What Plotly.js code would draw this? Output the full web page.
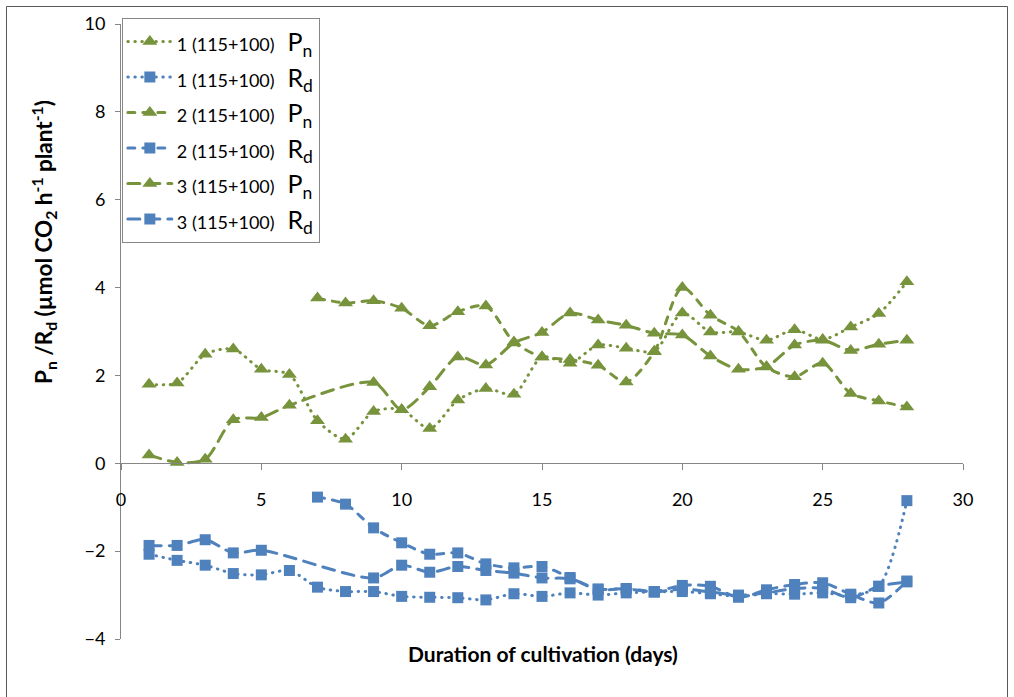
<!DOCTYPE html>
<html>
<head>
<meta charset="utf-8">
<script src="https://cdn.plot.ly/plotly-3.0.1.min.js"></script>
<style>
html, body { margin: 0; padding: 0; background: #fff; }
#chart { width: 1014px; height: 697px; }
path.js-line { stroke-linecap: round; }
</style>
</head>
<body>
<div id="chart"></div>
<script>
// Duration of cultivation (days)
const days = [1,2,3,4,5,6,7,8,9,10,11,12,13,14,15,16,17,18,19,20,21,22,23,24,25,26,27,28];

// Pn series (µmol CO2 h-1 plant-1)
const pn1 = [1.80,1.83,2.48,2.60,2.14,2.02,0.97,0.55,1.18,1.22,0.79,1.44,1.70,1.57,2.42,2.28,2.69,2.62,2.55,3.42,2.99,2.99,2.80,3.04,2.82,3.10,3.41,4.13];
const pn2 = [null,null,null,null,null,null,3.76,3.65,3.70,3.53,3.13,3.45,3.58,2.76,2.42,2.36,2.23,1.85,2.54,4.00,3.37,3.00,2.19,1.97,2.28,1.59,1.42,1.28];
const pn3 = [0.19,0.02,0.09,0.99,1.04,1.32,null,null,1.84,1.22,1.74,2.42,2.24,2.74,2.98,3.42,3.26,3.14,2.96,2.92,2.44,2.14,2.20,2.69,2.80,2.57,2.71,2.80];

// Rd series
const rd1 = [-2.07,-2.21,-2.32,-2.51,-2.54,-2.44,-2.82,-2.92,-2.92,-3.03,-3.05,-3.06,-3.11,-2.97,-3.03,-2.95,-3.00,-2.95,-2.93,-2.92,-2.97,-3.03,-2.97,-2.98,-2.95,-3.00,-2.80,-0.85];
const rd2 = [null,null,null,null,null,null,-0.77,-0.93,-1.47,-1.81,-2.07,-2.04,-2.29,-2.38,-2.35,-2.60,-2.88,-2.85,-2.92,-2.78,-2.80,-3.05,-2.88,-2.76,-2.72,-2.98,-3.18,-2.68];
const rd3 = [-1.87,-1.87,-1.74,-2.04,-1.98,null,null,null,-2.61,-2.32,-2.48,-2.35,-2.44,-2.50,-2.61,-2.63,-2.86,-2.86,-2.93,-2.86,-2.93,-3.00,-2.95,-2.85,-2.85,-3.06,-2.80,-2.70];

const groupLabels = ['1 (115+100)', '1 (115+100)', '2 (115+100)', '2 (115+100)', '3 (115+100)', '3 (115+100)'];
const varLabels = ['P<sub>n</sub>', 'R<sub>d</sub>', 'P<sub>n</sub>', 'R<sub>d</sub>', 'P<sub>n</sub>', 'R<sub>d</sub>'];

function legendName(i) {
  return '<span style="font-size:18px">' + groupLabels[i] + '</span>  ' + varLabels[i];
}

const GREEN = '#77933C';
const BLUE = '#4F81BD';
const DOT = '0.5px,6.5px';
const DASH = '7px,8px';
const LDASH = '12px,8px';

function mk(y, i, color, dash, symbol, size) {
  return {
    x: days, y: y, name: legendName(i), type: 'scatter', mode: 'lines+markers',
    connectgaps: true,
    line: { color: color, width: 3, dash: dash, shape: 'spline', smoothing: 0.8 },
    marker: { color: color, symbol: symbol, size: size, line: { width: 0 } }
  };
}

const data = [
  mk(pn1, 0, GREEN, DOT, 'triangle-up', 13),
  mk(rd1, 1, BLUE, DOT, 'square', 11),
  mk(pn2, 2, GREEN, DASH, 'triangle-up', 13),
  mk(rd2, 3, BLUE, DASH, 'square', 11),
  mk(pn3, 4, GREEN, LDASH, 'triangle-up', 13),
  mk(rd3, 5, BLUE, LDASH, 'square', 11)
];

const AX = '#868686';
const FONT = 'Lato, "Open Sans", sans-serif';

const layout = {
  width: 1014, height: 697,
  margin: { l: 121, r: 51, t: 24, b: 58 },
  paper_bgcolor: '#fff', plot_bgcolor: '#fff',
  font: { family: FONT, color: '#000', size: 18 },
  showlegend: true,
  legend: {
    x: 0.001, y: 1.01, xanchor: 'left', yanchor: 'top',
    bgcolor: '#fff', bordercolor: AX, borderwidth: 1,
    font: { family: FONT, size: 25, color: '#000' },
    traceorder: 'normal',
    itemwidth: 44
  },
  xaxis: {
    range: [0, 30], dtick: 5, tick0: 0,
    anchor: 'free', position: 4 / 14,
    showline: true, linecolor: AX, linewidth: 1,
    ticks: 'outside', ticklen: 6, tickcolor: AX,
    showgrid: false, zeroline: false,
    tickfont: { family: FONT, size: 18, color: '#000' },
    ticklabelstandoff: 14
  },
  yaxis: {
    range: [-4, 10], dtick: 2, tick0: 0,
    showline: true, linecolor: AX, linewidth: 1,
    ticks: 'outside', ticklen: 5, tickcolor: AX,
    showgrid: false, zeroline: false,
    tickfont: { family: FONT, size: 18, color: '#000' },
    ticklabelstandoff: 6
  },
  annotations: [
    {
      text: '<b>Duration of cultivation (days)</b>',
      xref: 'paper', yref: 'paper', x: 0.501, y: -0.024,
      xanchor: 'center', yanchor: 'middle', showarrow: false,
      font: { family: FONT, size: 21, color: '#000' }
    },
    {
      text: '<b>P<sub>n</sub> /R<sub>d</sub> (µmol CO<sub>2</sub> h<sup>-1</sup> plant<sup>-1</sup>)</b>',
      xref: 'paper', yref: 'paper', x: -0.0926, y: 0.6455,
      xanchor: 'center', yanchor: 'middle', showarrow: false, textangle: -90,
      font: { family: FONT, size: 22.5, color: '#000' }
    }
  ],
  shapes: [
    {
      type: 'rect', xref: 'paper', yref: 'paper', layer: 'below',
      x0: (6.5 - 121) / 842, x1: (1007.5 - 121) / 842,
      y0: (639 - 702) / 615, y1: (639 - 6.5) / 615,
      line: { color: '#595959', width: 1 }, fillcolor: 'rgba(0,0,0,0)'
    }
  ]
};

Plotly.newPlot('chart', data, layout, { displayModeBar: false, staticPlot: true });
</script>
</body>
</html>
